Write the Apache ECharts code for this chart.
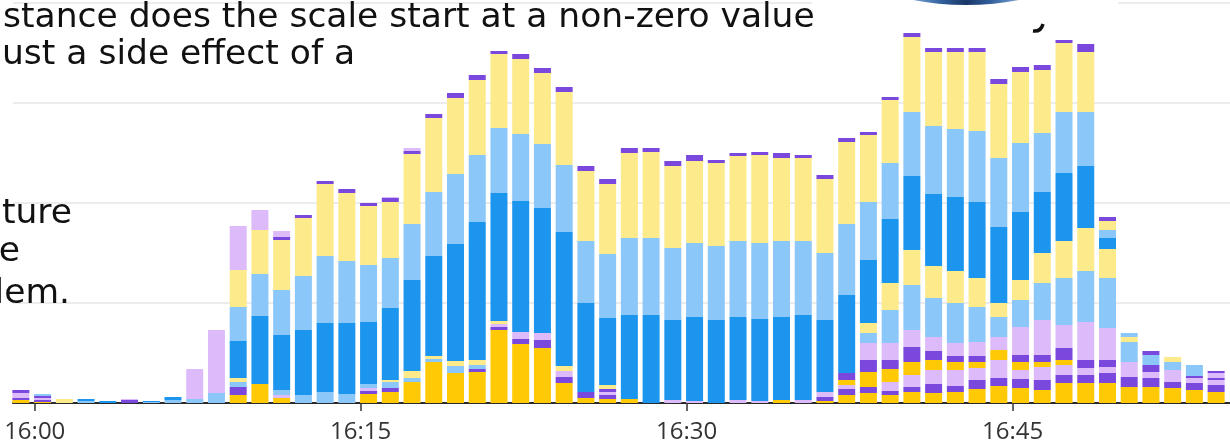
<!DOCTYPE html>
<html><head><meta charset="utf-8">
<script src="https://cdn.jsdelivr.net/npm/echarts@6/dist/echarts.min.js"></script>
<style>html,body{margin:0;padding:0;background:#fff;}#c{width:1230px;height:444px;}</style>
</head><body><div id="c"></div>
<script>
// bar timestamps (one bar per minute)
const times = ['15:59:22','16:00:22','16:01:22','16:02:22','16:03:22','16:04:22','16:05:22','16:06:22','16:07:22','16:08:22',
 '16:09:22','16:10:22','16:11:22','16:12:22','16:13:22','16:14:22','16:15:22','16:16:22','16:17:22','16:18:22',
 '16:19:22','16:20:22','16:21:22','16:22:22','16:23:22','16:24:22','16:25:22','16:26:22','16:27:22','16:28:22',
 '16:29:22','16:30:22','16:31:22','16:32:22','16:33:22','16:34:22','16:35:22','16:36:22','16:37:22','16:38:22',
 '16:39:22','16:40:22','16:41:22','16:42:22','16:43:22','16:44:22','16:45:22','16:46:22','16:47:22','16:48:22',
 '16:49:22','16:50:22','16:51:22','16:52:22','16:53:22','16:54:22'];
const tickLabels = ['16:00','16:15','16:30','16:45'];
const axisStart = '15:59:00', axisEnd = '16:55:00';

// stacked series, bottom to top
const gold = [3,1,0,0,0,0,0,0,0,0, 8,19,5,0,0,0,9,11,21,41, 30,31,73,59,55,20,5,4,4,0, 0,0,0,0,0,3,0,2,8,10, 8,11,10,11,14,17,15,13,20,20, 20,16,16,15,13,11];
const purple = [2,2,0,0,0,3,0,0,0,0, 8,0,0,0,0,0,3,4,0,0, 0,3,3,5,8,6,6,4,0,0, 0,0,0,0,0,0,0,4,6,6, 4,5,9,6,9,8,9,10,8,8, 10,10,9,6,7,7];
const lavender = [5,2,0,0,0,1,0,0,0,0, 0,0,3,0,0,0,3,0,0,0, 0,0,3,7,7,6,0,3,0,0, 3,2,0,3,2,0,3,5,4,0, 9,12,14,16,12,18,9,13,10,7, 6,15,6,12,5,5];
const gold2 = [0,0,0,0,0,0,0,0,0,0, 0,0,0,0,0,0,0,0,0,0, 0,0,0,0,0,0,0,0,0,0, 0,0,0,0,0,0,0,0,5,15, 13,13,10,8,6,10,8,5,5,0, 0,0,0,0,0,0];
const purple2 = [0,2,0,0,0,0,0,0,0,0, 0,0,0,0,0,0,0,0,0,0, 0,0,0,0,0,0,0,3,0,0, 0,0,0,0,0,0,0,0,7,12, 9,15,9,6,6,0,7,7,12,8, 7,0,7,0,2,2];
const lavender2 = [0,0,0,0,0,0,0,0,0,0, 0,0,0,0,0,0,0,0,0,0, 0,0,0,0,0,0,0,0,0,0, 0,0,0,0,0,0,0,0,0,17, 17,17,14,13,14,13,28,35,23,38, 32,0,0,0,0,5];
const lightBlueSmall = [0,2,0,2,0,0,1,3,4,10, 5,0,5,8,11,9,4,6,4,3, 7,4,0,0,0,0,0,0,0,0, 0,0,0,0,0,0,0,0,0,10, 33,45,39,40,35,20,27,37,47,51, 50,20,10,8,11,0];
const paleYellowSmall = [0,0,4,0,0,0,0,0,0,0, 4,0,0,0,0,0,0,2,7,3, 5,5,3,0,0,5,0,4,0,0, 0,0,0,0,0,0,0,0,0,10, 27,35,32,32,29,14,20,30,37,43, 29,5,0,5,0,0];
const darkBlue = [0,0,0,2,2,0,1,3,0,0, 37,68,55,65,69,71,62,72,91,100, 117,138,128,131,125,134,89,67,84,88, 80,84,83,83,82,83,85,72,78,63, 64,74,72,74,76,76,68,61,68,62, 11,0,0,0,0,0];
const lightBlue = [0,0,0,0,0,0,0,0,0,0, 34,42,45,54,67,62,57,50,56,64, 70,67,65,67,64,67,62,64,77,77, 72,74,74,76,76,76,74,67,71,58, 56,64,68,68,71,69,69,59,61,54, 8,4,0,0,0,0];
const paleYellow = [0,0,0,0,0,0,0,0,0,0, 37,44,50,58,72,68,59,56,70,74, 76,75,74,75,71,73,70,70,85,86, 82,82,83,85,88,83,83,74,82,67, 63,75,74,77,79,74,71,63,69,60, 9,0,0,0,0,0];
const purpleCap = [3,0,0,0,0,0,0,0,0,0, 0,0,3,3,3,4,3,4,3,4, 5,5,3,5,5,5,5,5,5,4, 5,6,3,3,3,5,3,4,4,3, 3,4,4,4,4,5,5,5,3,8, 4,0,4,0,0,2];
const lavenderTop = [0,0,0,0,0,0,0,0,30,63, 44,20,6,0,0,0,0,1,3,0, 0,0,0,0,0,0,0,0,0,0, 0,0,0,0,0,0,0,0,0,0, 0,0,0,0,0,0,0,0,0,0, 0,0,0,0,0,0];

const C = {gold:'#FFC906', purple:'#7B48DE', lav:'#DDBAFA', lb:'#8BC7F8', py:'#FDEB8B', db:'#1C95EE'};
const stackDefs = [
  ['gold', gold, C.gold], ['purple', purple, C.purple], ['lavender', lavender, C.lav],
  ['gold2', gold2, C.gold], ['purple2', purple2, C.purple], ['lavender2', lavender2, C.lav],
  ['lightBlueSmall', lightBlueSmall, C.lb], ['paleYellowSmall', paleYellowSmall, C.py],
  ['darkBlue', darkBlue, C.db], ['lightBlue', lightBlue, C.lb], ['paleYellow', paleYellow, C.py],
  ['purpleCap', purpleCap, C.purple], ['lavenderTop', lavenderTop, C.lav]
];

function toMin(t){ const p = t.split(':').map(Number); return (p[0]-16)*60 + p[1] + (p[2]||0)/60; }
const tickMins = tickLabels.map(t => toMin(t));

const chart = echarts.init(document.getElementById('c'), null, {renderer:'canvas'});
const F = 34.5, fam = 'DejaVu Sans';
const txt = (text, x, base, align) => ({type:'text', z:200, style:{text, x, y: base - 0.24*F, fill:'#111', font: F+'px "'+fam+'"', align: align||'left', verticalAlign:'middle'}});

const hiddenAxis = {axisLine:{show:false}, axisTick:{show:false}, axisLabel:{show:false}, splitLine:{show:false}};

chart.setOption({
  animation:false,
  backgroundColor:'#fff',
  grid:[
    {left:10, right:3, top:3, bottom:41},
    {left:13, right:0, top:3, bottom:41}
  ],
  xAxis:[
    Object.assign({type:'category', gridIndex:0, data:times, boundaryGap:true}, hiddenAxis),
    {type:'value', gridIndex:1, min:toMin(axisStart), max:toMin(axisEnd),
      axisLine:{show:true, onZero:false, lineStyle:{color:'#2a2a2a', width:2}},
      axisTick:{show:true, customValues:tickMins, length:8, lineStyle:{color:'#333', width:1.5}},
      axisLabel:{show:true, customValues:tickMins, formatter:(v)=>tickLabels[tickMins.findIndex(m=>Math.abs(m-v)<1e-6)] || '',
        fontFamily:'Open Sans', fontSize:24, color:'#333', margin:17},
      splitLine:{show:false}}
  ],
  yAxis:[
    Object.assign({type:'value', gridIndex:0, min:0, max:400, interval:100}, hiddenAxis),
    {type:'value', gridIndex:1, min:0, max:400, interval:100,
      axisLabel:{show:false}, axisLine:{show:false}, axisTick:{show:false},
      splitLine:{show:true, lineStyle:{color:'#e6e6e6', width:1.5}}}
  ],
  series: stackDefs.map(([name, vals, color]) => ({
    type:'bar', name, stack:'total', barWidth:17, silent:true, xAxisIndex:0, yAxisIndex:0,
    data: vals, itemStyle:{color}
  })),
  graphic:[
    {type:'rect', z:150, shape:{x:812, y:0, width:306, height:8}, style:{fill:'#fff'}},
    {type:'circle', z:160, shape:{cx:966, cy:-278, r:283}, style:{fill:{type:'linear', x:0, y:0, x2:1, y2:0, colorStops:[
      {offset:0.40, color:'#7fa9dd'},{offset:0.46, color:'#2f5c98'},{offset:0.5, color:'#1a3766'},{offset:0.54, color:'#2f5c98'},{offset:0.60, color:'#7fa9dd'}]}}},
    {type:'bezierCurve', z:200, shape:{x1:1043, y1:24, x2:1033, y2:31, cpx1:1041, cpy1:32}, style:{stroke:'#111', lineWidth:3.5, fill:null}},
    txt('stance does the scale start at a non-zero value', 3, 26),
    txt('ust a side effect of a', 2, 63),
    txt('ture', 72, 222, 'right'),
    txt('e', 20, 260, 'right'),
    txt('lem.', 70, 302, 'right')
  ]
});
</script></body></html>
